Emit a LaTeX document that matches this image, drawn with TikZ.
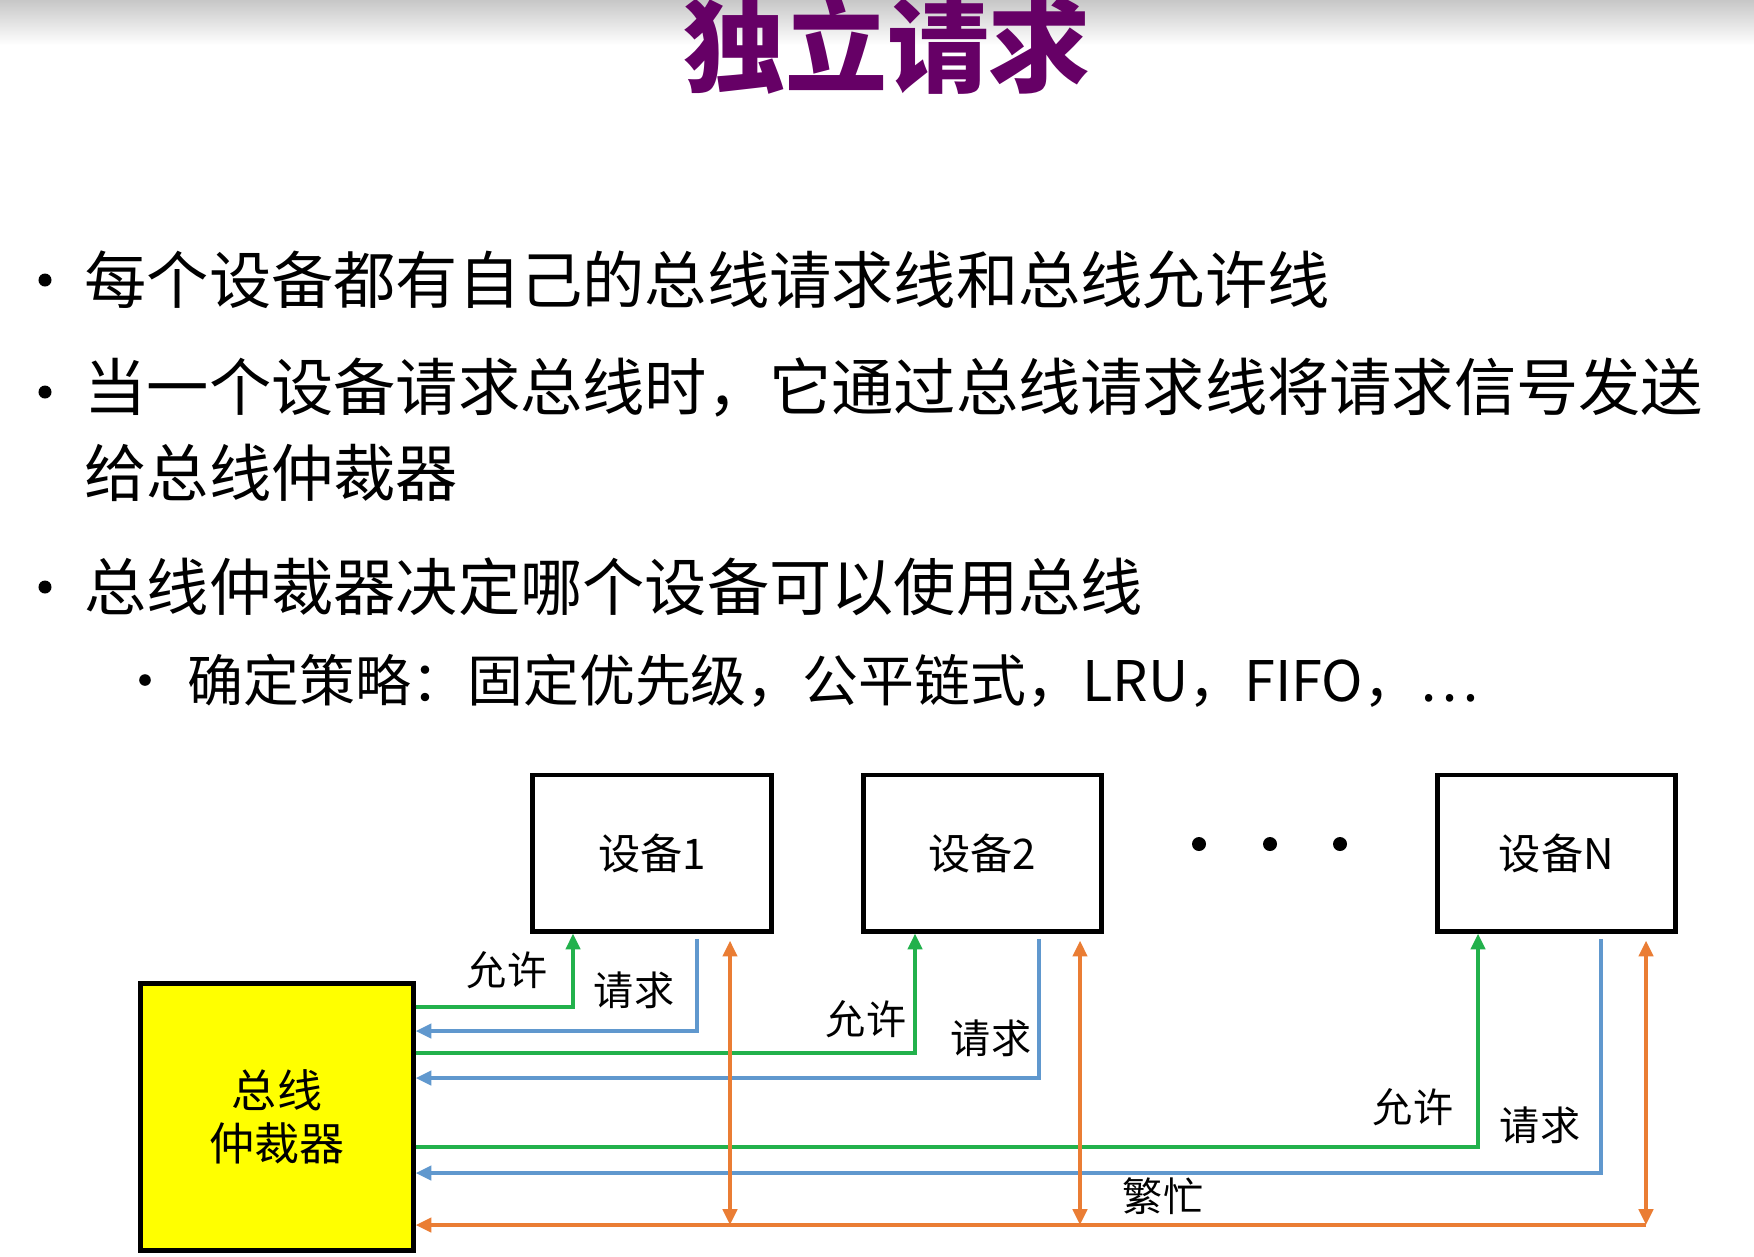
\documentclass[tikz,border=0pt]{standalone}
\usepackage{fontspec}
\setmainfont{Noto Sans CJK SC}
\usetikzlibrary{arrows.meta, positioning}
\definecolor{grantgreen}{RGB}{34,177,76}
\definecolor{reqblue}{RGB}{96,152,206}
\definecolor{busyorange}{RGB}{234,125,52}
\definecolor{titlepurple}{RGB}{102,0,102}
\definecolor{arbyellow}{RGB}{255,255,0}
\tikzstyle{devbox} = [rectangle, draw=black, line width=1.4pt, minimum width=2.38cm, minimum height=1.56cm, fill=white, font=\fontsize{12pt}{14pt}\selectfont]
\tikzstyle{arbbox} = [rectangle, draw=black, line width=1.4pt, minimum width=2.72cm, minimum height=2.66cm, fill=arbyellow, align=center, font=\fontsize{12.8pt}{15.1pt}\selectfont]

\begin{document}
\begin{tikzpicture}[x=0.01cm, y=-0.01cm,
		grant/.style={draw=grantgreen, line width=1.3pt, -{Triangle[length=4.5pt, width=4pt]}},
		request/.style={draw=reqblue, line width=1.2pt, -{Triangle[length=4.5pt, width=4pt]}, shorten <=1.5pt},
		busy/.style={draw=busyorange, line width=1.3pt, >={Triangle[length=4.5pt, width=4pt]}},
		sig/.style={inner sep=0pt, font=\fontsize{11.4pt}{13pt}\selectfont},
		itemtext/.style={anchor=base west, inner sep=0pt, align=left, font=\fontsize{17.7pt}{24.2pt}\selectfont},
		subtext/.style={anchor=base west, inner sep=0pt, font=\fontsize{15.9pt}{19pt}\selectfont}
		]
		\path[use as bounding box, clip] (0,0) rectangle (1754,1256);
		% Title
		\shade[top color=black!22, bottom color=white] (0,0) rectangle (1754,45);
		\node[anchor=base, inner sep=0pt, text=titlepurple, font=\fontsize{29pt}{30pt}\selectfont\bfseries] (title) at (887,84) {独立请求};
		% Bullet list
		\foreach \y in {280,392,587} \fill (45,\y) circle[radius=0.065cm];
		\fill (145,680) circle[radius=0.058cm];
		\node[itemtext] (item1) at (84,303) {每个设备都有自己的总线请求线和总线允许线};
		\node[itemtext] (item2) at (84,496) {当一个设备请求总线时，它通过总线请求线将请求信号发送\\给总线仲裁器};
		\node[itemtext] (item3) at (84,610) {总线仲裁器决定哪个设备可以使用总线};
		\node[subtext] (policy) at (187,701) {确定策略：固定优先级，公平链式，LRU，FIFO，…};
		% Devices
		\node[devbox] (dev1) at (652,853) {设备1};
		\node[devbox, right=0.87cm of dev1] (dev2) {设备2};
		\node[devbox, right=3.31cm of dev2] (devn) {设备N};
		\foreach \x in {1199,1270,1340} \fill (\x,844) circle[radius=0.07cm];
		% Arbiter
		\node[arbbox] (arbiter) at (277,1117) {总线\\仲裁器};
		% Grant lines
		\coordinate (g1) at (573,1007);
		\coordinate (g2) at (915,1053);
		\coordinate (gn) at (1478,1147);
		\draw[grant] (arbiter.east |- g1) -| (dev1.south -| g1);
		\draw[grant] (arbiter.east |- g2) -| (dev2.south -| g2);
		\draw[grant] (arbiter.east |- gn) -| (devn.south -| gn);
		% Request lines
		\coordinate (r1) at (697,1031);
		\coordinate (r2) at (1039,1078);
		\coordinate (rn) at (1601,1173);
		\draw[request] (dev1.south -| r1) |- (arbiter.east |- r1);
		\draw[request] (dev2.south -| r2) |- (arbiter.east |- r2);
		\draw[request] (devn.south -| rn) |- (arbiter.east |- rn);
		% Busy line
		\coordinate (k1) at (730,1225);
		\coordinate (k2) at (1080,1225);
		\coordinate (kn) at (1646,1225);
		\draw[busy, <->, shorten <=2pt] (dev1.south -| k1) -- (k1);
		\draw[busy, <->, shorten <=2pt] (dev2.south -| k2) -- (k2);
		\draw[busy, <->, shorten <=2pt] (devn.south -| kn) -- (kn);
		\draw[busy, ->] (kn) -- (arbiter.east |- kn);
		% Labels
		\node[sig] (lg1) at (507,970) {允许};
		\node[sig] (lr1) at (634,990) {请求};
		\node[sig] (lg2) at (866,1019) {允许};
		\node[sig] (lr2) at (991,1038) {请求};
		\node[sig] (lgn) at (1413,1107) {允许};
		\node[sig] (lrn) at (1540,1125) {请求};
		\node[sig] (lbusy) at (1163,1196) {繁忙};
	\end{tikzpicture}
\end{document}
